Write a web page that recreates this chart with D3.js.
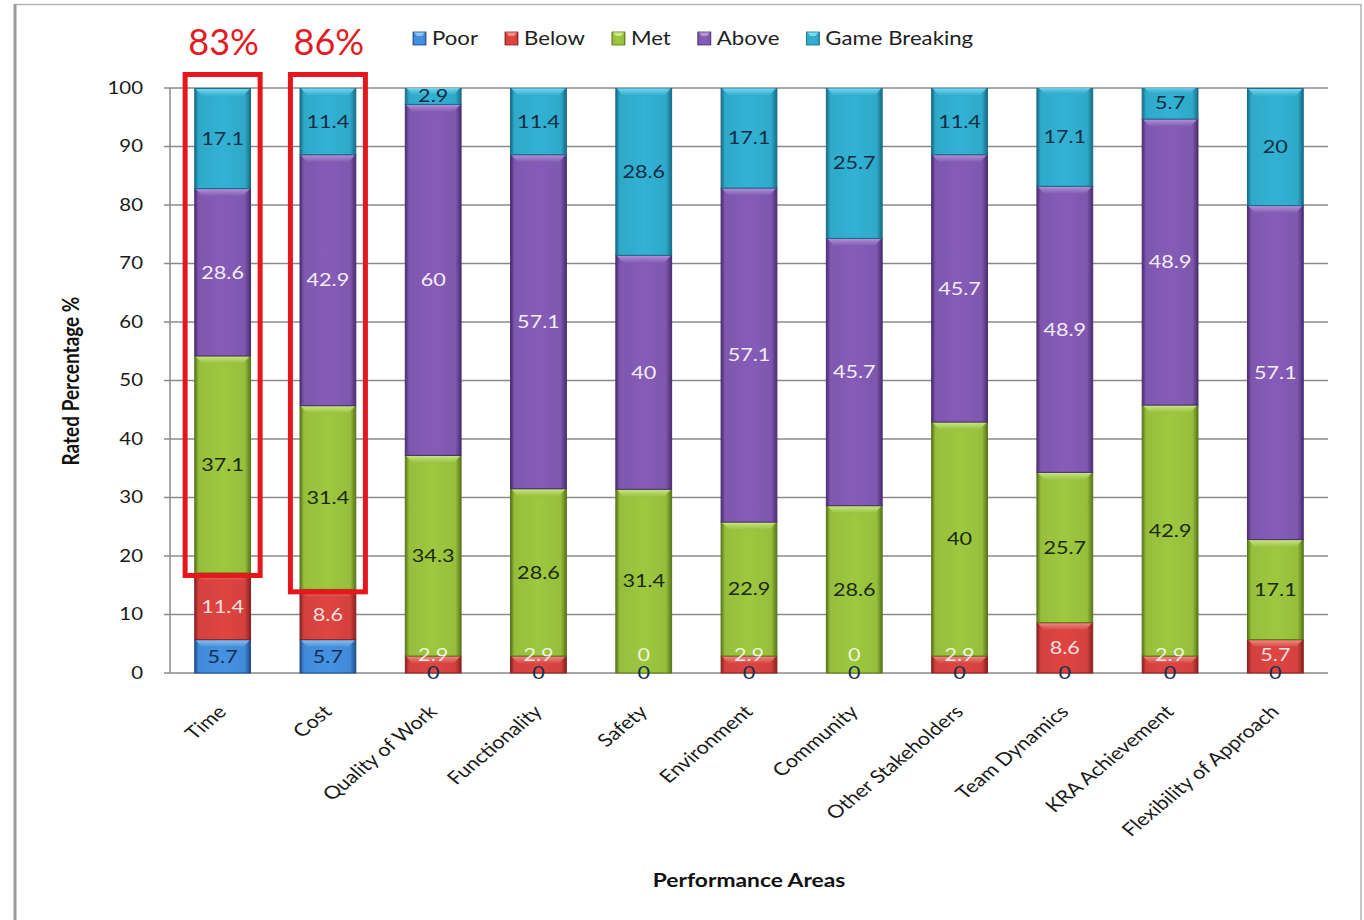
<!DOCTYPE html>
<html>
<head>
<meta charset="utf-8">
<script src="https://cdn.jsdelivr.net/npm/d3@7"></script>
<style>
  html, body { margin: 0; padding: 0; background: #fff; }
  svg { display: block; }
  text { font-family: Lato, "Open Sans", sans-serif; }
</style>
</head>
<body>
<svg id="chart" width="1364" height="920"></svg>
<script>
// Performance ratings per area (% of respondents)
const categories = ["Time", "Cost", "Quality of Work", "Functionality", "Safety", "Environment",
  "Community", "Other Stakeholders", "Team Dynamics", "KRA Achievement", "Flexibility of Approach"];
const seriesNames = ["Poor", "Below", "Met", "Above", "Game Breaking"];
const poor         = [5.7, 5.7, 0, 0, 0, 0, 0, 0, 0, 0, 0];
const below        = [11.4, 8.6, 2.9, 2.9, 0, 2.9, 0, 2.9, 8.6, 2.9, 5.7];
const met          = [37.1, 31.4, 34.3, 28.6, 31.4, 22.9, 28.6, 40, 25.7, 42.9, 17.1];
const above        = [28.6, 42.9, 60, 57.1, 40, 57.1, 45.7, 45.7, 48.9, 48.9, 57.1];
const gameBreaking = [17.1, 11.4, 2.9, 11.4, 28.6, 17.1, 25.7, 11.4, 17.1, 5.7, 20];
const yTicks = [0, 10, 20, 30, 40, 50, 60, 70, 80, 90, 100];
const highlighted = ["Time", "Cost"];

const seriesValues = [poor, below, met, above, gameBreaking];
const rows = categories.map((c, i) => {
  const r = { category: c };
  seriesNames.forEach((s, k) => r[s] = seriesValues[k][i]);
  return r;
});

// Palette per series: edge shade, body, top bevel, label colour
const palette = {
  "Poor":          { edge: "#1f4c88", body: "#418ad8", top: "#8fc4f2", label: "#15304d" },
  "Below":         { edge: "#8a2020", body: "#d3413e", top: "#f19088", label: "rgba(255,255,255,0.85)" },
  "Met":           { edge: "#587619", body: "#96be3c", top: "#cbe888", label: "#1b2a0b" },
  "Above":         { edge: "#4a2d72", body: "#7f57ae", top: "#b695de", label: "#f4edfb" },
  "Game Breaking": { edge: "#176c86", body: "#2fa9c9", top: "#7bdbf1", label: "#0f2d44" }
};

const SX = 1.2; // horizontal text stretch
const svg = d3.select("#chart");
const W = 1364, H = 920;
const plotL = 170, plotR = 1328, plotT = 88, plotB = 673;

const x = d3.scaleBand().domain(categories).range([plotL, plotR]).paddingInner(0.47).paddingOuter(0.235);
const y = d3.scaleLinear().domain([0, 100]).range([plotB, plotT]);

// Outer frame
svg.append("rect").attr("x", 15).attr("y", 4.5).attr("width", 1346).attr("height", 930)
  .attr("fill", "#fff").attr("stroke", "#b5b5b5").attr("stroke-width", 1.5);
svg.append("line").attr("x1", 15).attr("x2", 15).attr("y1", 4).attr("y2", H)
  .attr("stroke", "#9a9a9a").attr("stroke-width", 3);

const defs = svg.append("defs");
seriesNames.forEach((s, k) => {
  const p = palette[s];
  const g = defs.append("linearGradient").attr("id", "g" + k).attr("x1", 0).attr("x2", 1).attr("y1", 0).attr("y2", 0);
  [[0, p.edge], [0.07, p.body], [0.5, d3.color(p.body).brighter(0.15)], [0.9, p.body], [1, p.edge]]
    .forEach(([o, c]) => g.append("stop").attr("offset", o).attr("stop-color", c));
  const t = defs.append("linearGradient").attr("id", "t" + k).attr("x1", 0).attr("x2", 0).attr("y1", 0).attr("y2", 1);
  t.append("stop").attr("offset", 0).attr("stop-color", p.top);
  t.append("stop").attr("offset", 1).attr("stop-color", p.body);
});
defs.append("clipPath").attr("id", "plotClip").append("rect")
  .attr("x", plotL - 5).attr("y", plotT).attr("width", plotR - plotL + 10).attr("height", plotB - plotT + 2);

// Stretched text helper
function stext(parent, px, py, str, o = {}) {
  const g = parent.append("g")
    .attr("transform", `translate(${px},${py}) scale(${SX},1)` + (o.rotate ? ` rotate(${o.rotate})` : ""));
  return g.append("text")
    .attr("text-anchor", o.anchor || "middle")
    .attr("dy", o.dy === undefined ? "0.35em" : o.dy)
    .attr("font-size", o.size || 18)
    .attr("font-weight", o.weight || "normal")
    .attr("fill", o.fill || "#1a1a1a")
    .text(str);
}

// Gridlines and axes
const grid = svg.append("g");
grid.selectAll("line").data(yTicks).join("line")
  .attr("x1", plotL - 6).attr("x2", plotR)
  .attr("y1", d => y(d)).attr("y2", d => y(d))
  .attr("stroke", "#8a8a8a").attr("stroke-width", 1.5);
svg.append("line").attr("x1", plotL).attr("x2", plotL).attr("y1", plotT).attr("y2", plotB)
  .attr("stroke", "#8a8a8a").attr("stroke-width", 1.5);

const tickG = svg.append("g");
yTicks.forEach(t => stext(tickG, 143, y(t), String(t), { anchor: "end", size: 17 }));

// Stacked bars
const stacked = d3.stack().keys(seriesNames)(rows);
const barsG = svg.append("g").attr("clip-path", "url(#plotClip)");
stacked.forEach((layer, k) => {
  const p = palette[layer.key];
  layer.forEach(d => {
    const x0 = x(d.data.category), bw = x.bandwidth();
    const y1 = y(d[1]), y0 = y(d[0]);
    const h = y0 - y1;
    if (h <= 0.01) return;
    const seg = barsG.append("g");
    seg.append("rect").attr("x", x0).attr("y", y1).attr("width", bw).attr("height", h)
      .attr("fill", `url(#g${k})`).attr("stroke", p.edge).attr("stroke-width", 1);
    const bh = Math.min(8, h / 2), bev = Math.min(7, h / 2);
    seg.append("path")
      .attr("d", `M${x0 + 1},${y1 + 0.5} L${x0 + bw - 1},${y1 + 0.5} L${x0 + bw - 1 - bev},${y1 + bh} L${x0 + 1 + bev},${y1 + bh} Z`)
      .attr("fill", `url(#t${k})`).attr("opacity", 0.9);
  });
});

// Value labels
const labelsG = svg.append("g");
stacked.forEach(layer => {
  const p = palette[layer.key];
  layer.forEach(d => {
    const v = d.data[layer.key];
    const cx = x(d.data.category) + x.bandwidth() / 2;
    let cy = (y(d[0]) + y(d[1])) / 2;
    if (layer.key === "Below") cy = Math.min(cy, y(0) - 18);
    cy = Math.max(cy, y(100) + 8);
    stext(labelsG, cx, cy, String(v), { size: 18, fill: p.label });
  });
});

// Category labels
const catG = svg.append("g");
categories.forEach(c => {
  const cx = x(c) + x.bandwidth() / 2;
  stext(catG, cx + 5, plotB + 40, c, { anchor: "end", size: 18, rotate: -45, dy: 0, fill: "#1a1a1a" });
});

// Axis titles
stext(svg, 71, 381, "Rated Percentage %", { rotate: -90, size: 19, weight: "bold", fill: "#111" });
stext(svg, 749, 880, "Performance Areas", { size: 19, weight: "bold", fill: "#111" });

// Legend
const legend = svg.append("g");
let lx = 413;
seriesNames.forEach((s, k) => {
  const p = palette[s];
  legend.append("rect").attr("x", lx).attr("y", 32).attr("width", 13).attr("height", 13)
    .attr("fill", `url(#g${k})`).attr("stroke", p.edge).attr("stroke-width", 0.8);
  legend.append("path").attr("d", `M${lx + 1},${32.5} L${lx + 12},${32.5} L${lx + 9},${36} L${lx + 4},${36} Z`)
    .attr("fill", p.top);
  const t = stext(legend, lx + 19, 39, s, { anchor: "start", size: 18.5, fill: "#222" });
  const w = t.node().getComputedTextLength() * SX;
  lx += 19 + w + 27;
});

// Highlight boxes for the first two areas: share rated Met or better
const boxG = svg.append("g");
highlighted.forEach(c => {
  const i = categories.indexOf(c);
  const cx = x(c) + x.bandwidth() / 2;
  const base = poor[i] + below[i];
  const share = met[i] + above[i] + gameBreaking[i];
  boxG.append("rect")
    .attr("x", cx - 37.5).attr("y", plotT - 13.5)
    .attr("width", 75).attr("height", y(base) + 2.5 - (plotT - 13.5))
    .attr("fill", "none").attr("stroke", "#e5161c").attr("stroke-width", 5);
  boxG.append("text").attr("x", cx + 1).attr("y", 55)
    .attr("text-anchor", "middle").attr("font-family", "'Liberation Sans', Arial, sans-serif")
    .attr("font-size", 36).attr("fill", "#e31b22")
    .text(Math.round(share) + "%");
});
</script>
</body>
</html>
